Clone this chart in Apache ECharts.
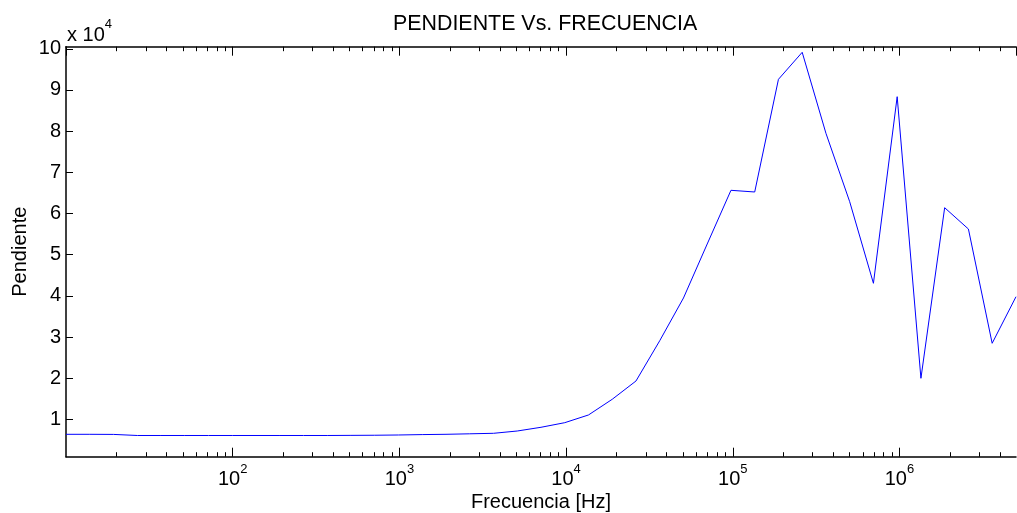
<!DOCTYPE html>
<html>
<head>
<meta charset="utf-8">
<script src="https://cdn.jsdelivr.net/npm/echarts@6/dist/echarts.min.js"></script>
<style>
  html, body { margin: 0; padding: 0; background: #ffffff; }
  #chart { width: 1017px; height: 513px; }
</style>
</head>
<body>
<div id="chart"></div>
<script>
// Frequency sweep (Hz), log-spaced points
const frecuencia = [10, 13.9, 19.3, 26.8, 37.1, 51.6, 71.6, 99.4, 138, 192, 266, 369, 512, 711, 988,
  1371, 1904, 2642, 3669, 5093, 7071, 9815, 13625, 18914, 26258, 36450, 50600, 70243, 97510,
  135360, 187900, 260850, 362110, 502680, 697820, 968700, 1344700, 1866700, 2591400, 3597300, 5000000];

// Slope at each frequency
const pendiente = [6380, 6380, 6350, 6090, 6090, 6090, 6090, 6090, 6090, 6090, 6090, 6090, 6120, 6150, 6210,
  6310, 6380, 6500, 6620, 7180, 8080, 9200, 11070, 14880, 19320, 29100, 39480, 52590, 65630,
  65220, 92580, 99140, 79470, 62860, 43050, 88360, 19980, 61400, 56230, 28480, 39790];

// Y tick positions (labels are shown in units of 10^4)
const yTicks = [10000, 20000, 30000, 40000, 50000, 60000, 70000, 80000, 90000, 100000];

const xMin = 10, xMax = 5000000;
const yMin = 940, yMax = 100500;

const FONT = "'Liberation Sans', Arial, Helvetica, sans-serif";

// minor log ticks (2..9 within each decade)
const minorTicks = [];
for (let d = 1; d <= 6; d++) {
  for (let m = 2; m <= 9; m++) {
    const v = m * Math.pow(10, d);
    if (v > xMin && v < xMax) minorTicks.push([v, yMin]);
  }
}

const chart = echarts.init(document.getElementById('chart'), null, { renderer: 'canvas' });

const axisLineStyle = { color: '#000', width: 1.5 };

// "10" with a raised exponent
const powerRich = {
  b: { fontFamily: FONT, fontSize: 20, color: '#000', lineHeight: 27, verticalAlign: 'bottom' },
  s: { fontFamily: FONT, fontSize: 13, color: '#000', lineHeight: 13, verticalAlign: 'top' }
};

const option = {
  backgroundColor: '#ffffff',
  animation: false,
  title: {
    text: 'PENDIENTE Vs. FRECUENCIA',
    left: 393,
    top: 14,
    padding: 0,
    textStyle: { fontFamily: FONT, fontSize: 21.4, fontWeight: 'normal', color: '#000' }
  },
  grid: { left: 66, right: 1, top: 46.7, bottom: 56.3, containLabel: false, outerBoundsMode: 'none' },
  xAxis: [
    {
      type: 'log',
      logBase: 10,
      min: xMin,
      max: xMax,
      position: 'bottom',
      name: 'Frecuencia [Hz]',
      nameLocation: 'middle',
      nameGap: 36,
      nameMoveOverlap: false,
      nameTextStyle: { fontFamily: FONT, fontSize: 20, color: '#000' },
      axisLine: { show: true, lineStyle: axisLineStyle },
      axisTick: { show: true, inside: true, length: 9, lineStyle: { color: '#000', width: 1 } },
      splitLine: { show: false },
      minorTick: { show: false },
      axisLabel: {
        show: true,
        margin: 6,
        showMinLabel: false,
        showMaxLabel: false,
        formatter: function (v) {
          const e = Math.log10(v);
          const r = Math.round(e);
          if (Math.abs(e - r) > 0.01) return '';
          return '{b|10}{s|' + r + '}';
        },
        rich: powerRich
      }
    },
    {
      type: 'log',
      logBase: 10,
      min: xMin,
      max: xMax,
      position: 'top',
      axisLine: { show: true, lineStyle: axisLineStyle },
      axisTick: { show: true, inside: true, length: 9, lineStyle: { color: '#000', width: 1 } },
      axisLabel: { show: false },
      splitLine: { show: false }
    }
  ],
  yAxis: {
    type: 'value',
    min: yMin,
    max: yMax,
    name: 'Pendiente',
    nameLocation: 'middle',
    nameGap: 36,
    nameRotate: 90,
    nameMoveOverlap: false,
    nameTextStyle: { fontFamily: FONT, fontSize: 20, color: '#000' },
    axisLine: { show: true, lineStyle: axisLineStyle },
    axisTick: { show: true, inside: true, length: 7, customValues: yTicks, lineStyle: { color: '#000', width: 1 } },
    splitLine: { show: false },
    axisLabel: {
      show: true,
      margin: 5,
      customValues: yTicks,
      fontFamily: FONT,
      fontSize: 20,
      color: '#000',
      formatter: function (v) { return String(Math.round(v / 10000)); }
    }
  },
  graphic: [
    {
      type: 'text',
      left: 67,
      top: 18,
      style: {
        text: '{b|x 10}{s|4}',
        rich: {
          b: { fontFamily: FONT, fontSize: 20, fill: '#000', lineHeight: 27, verticalAlign: 'bottom' },
          s: { fontFamily: FONT, fontSize: 13, fill: '#000', lineHeight: 13, verticalAlign: 'top' }
        }
      }
    }
  ],
  series: [
    {
      type: 'line',
      xAxisIndex: 0,
      data: frecuencia.map((f, i) => [f, pendiente[i]]),
      showSymbol: false,
      symbol: 'none',
      lineStyle: { color: '#0000ff', width: 1 },
      silent: true,
      z: 3
    },
    {
      // minor log ticks on bottom and top edges
      type: 'custom',
      xAxisIndex: 0,
      silent: true,
      clip: false,
      data: minorTicks,
      encode: { x: 0, y: 1 },
      renderItem: function (params, api) {
        const cs = params.coordSys;
        const x = Math.round(api.coord([api.value(0), yMin])[0]) + 0.5;
        const yb = cs.y + cs.height;
        const yt = cs.y;
        return {
          type: 'group',
          children: [
            { type: 'line', shape: { x1: x, y1: yb, x2: x, y2: yb - 4.5 }, style: { stroke: '#000', lineWidth: 1 } },
            { type: 'line', shape: { x1: x, y1: yt, x2: x, y2: yt + 4.5 }, style: { stroke: '#000', lineWidth: 1 } }
          ]
        };
      },
      z: 4
    }
  ]
};

chart.setOption(option);
</script>
</body>
</html>
